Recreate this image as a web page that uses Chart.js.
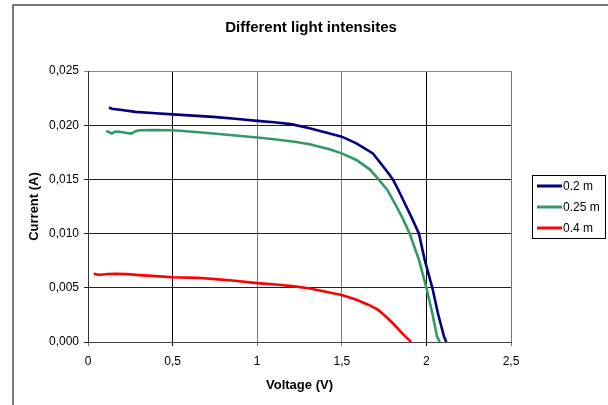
<!DOCTYPE html>
<html>
<head>
<meta charset="utf-8">
<script src="https://cdn.jsdelivr.net/npm/chart.js@4"></script>
<style>
	html, body { margin: 0; padding: 0; background: #fff; }
	#wrap { width: 608px; height: 405px; }
</style>
</head>
<body>
<div id="wrap"><canvas id="ivChart" width="608" height="405"></canvas></div>
<script>
const TITLE = "Different light intensites";
const X_LABEL = "Voltage (V)";
const Y_LABEL = "Current (A)";
const seriesNames = ["0.2 m", "0.25 m", "0.4 m"];
const seriesColors = ["#000080", "#339966", "#ff0000"];

// 0.2 m
const voltA = [0.124, 0.14, 0.165, 0.2, 0.28, 0.4, 0.5, 0.62, 0.74, 0.87, 1.0, 1.1, 1.2, 1.31, 1.4, 1.5, 1.586, 1.684, 1.754, 1.783, 1.805, 1.835, 1.872, 1.915, 1.956, 1.99, 2.035, 2.068, 2.104, 2.118];
const currA = [0.02163, 0.02152, 0.02147, 0.02140, 0.02123, 0.02110, 0.02100, 0.02088, 0.02077, 0.02060, 0.02040, 0.02027, 0.02010, 0.01972, 0.01935, 0.01894, 0.01833, 0.01740, 0.01600, 0.01540, 0.01490, 0.01400, 0.01280, 0.01140, 0.01000, 0.00757, 0.00500, 0.00265, 0.00050, 0.0];

// 0.25 m
const voltB = [0.108, 0.125, 0.142, 0.16, 0.188, 0.22, 0.257, 0.28, 0.303, 0.4, 0.5, 0.62, 0.74, 0.87, 1.0, 1.1, 1.22, 1.31, 1.427, 1.5, 1.586, 1.665, 1.718, 1.77, 1.813, 1.86, 1.901, 1.956, 2.0, 2.035, 2.063, 2.079];
const currB = [0.01948, 0.01935, 0.01923, 0.01942, 0.01939, 0.01930, 0.01923, 0.01945, 0.01954, 0.01955, 0.01954, 0.01940, 0.01923, 0.01905, 0.01887, 0.01870, 0.01847, 0.01825, 0.01779, 0.01740, 0.01679, 0.01593, 0.01500, 0.01400, 0.01280, 0.01140, 0.01000, 0.00757, 0.00500, 0.00265, 0.00050, 0.0];

// 0.4 m
const voltC = [0.034, 0.05, 0.073, 0.12, 0.165, 0.23, 0.303, 0.4, 0.5, 0.647, 0.75, 0.853, 1.0, 1.128, 1.22, 1.312, 1.427, 1.5, 1.587, 1.656, 1.713, 1.74, 1.77, 1.8, 1.828, 1.85, 1.874, 1.91];
const currC = [0.00629, 0.00624, 0.00620, 0.00627, 0.00629, 0.00626, 0.00617, 0.00608, 0.00598, 0.00592, 0.00580, 0.00567, 0.00543, 0.00528, 0.00513, 0.00494, 0.00457, 0.00433, 0.00390, 0.00344, 0.00298, 0.00262, 0.00221, 0.00175, 0.00129, 0.00092, 0.00052, 0.0];

const xTicks = [0, 0.5, 1, 1.5, 2, 2.5];
const yTicks = [0, 0.005, 0.01, 0.015, 0.02, 0.025];

function toPoints(xs, ys) {
	return xs.map((x, i) => ({ x: x, y: ys[i] }));
}

const seriesX = [voltA, voltB, voltC];
const seriesY = [currA, currB, currC];

const datasets = seriesNames.map((name, i) => ({
	label: name,
	data: toPoints(seriesX[i], seriesY[i]),
	borderColor: seriesColors[i],
	backgroundColor: seriesColors[i],
	borderWidth: 2.6,
	pointRadius: 0,
	tension: 0,
	fill: false,
}));

const FONT = "'Liberation Sans', Arial, sans-serif";

const frameAndTitle = {
	id: "frameAndTitle",
	beforeDraw(chart) {
		const { ctx } = chart;
		ctx.save();
		ctx.fillStyle = "#fff";
		ctx.fillRect(0, 0, chart.width, chart.height);
		ctx.strokeStyle = "#222";
		ctx.lineWidth = 1.2;
		ctx.strokeRect(13, 5, 700, 500);
		ctx.restore();
	},
	afterDraw(chart) {
		const { ctx } = chart;
		ctx.save();
		ctx.fillStyle = "#000";
		ctx.font = "bold 15px " + FONT;
		ctx.textAlign = "center";
		ctx.textBaseline = "middle";
		ctx.fillText(TITLE, 311, 28);

		// boxed legend on the right
		const box = { x: 532.5, y: 175.5, w: 73, h: 63 };
		ctx.strokeStyle = "#000";
		ctx.lineWidth = 1;
		ctx.fillStyle = "#fff";
		ctx.fillRect(box.x, box.y, box.w, box.h);
		ctx.strokeRect(box.x, box.y, box.w, box.h);
		ctx.font = "12px " + FONT;
		ctx.textAlign = "left";
		chart.data.datasets.forEach((ds, i) => {
			const y = 186 + i * 21;
			ctx.strokeStyle = ds.borderColor;
			ctx.lineWidth = 3;
			ctx.beginPath();
			ctx.moveTo(537, y);
			ctx.lineTo(562, y);
			ctx.stroke();
			ctx.fillStyle = "#000";
			ctx.fillText(ds.label, 563, y + 1);
		});
		ctx.restore();
	},
};

new Chart(document.getElementById("ivChart").getContext("2d"), {
	type: "line",
	data: { datasets: datasets },
	options: {
		responsive: false,
		animation: false,
		layout: { padding: { top: 71, right: 97, left: 0, bottom: 0 } },
		scales: {
			x: {
				type: "linear",
				min: 0,
				max: 2.5,
				afterBuildTicks(scale) {
					scale.ticks = xTicks.map((v) => ({ value: v }));
				},
				afterFit(scale) {
					scale.height = 63;
				},
				grid: {
					color: (c) => (c.tick && (c.tick.value === 0.5 || c.tick.value === 2) ? "#000" : "#777"),
					lineWidth: 1,
					tickLength: 4,
				},
				border: { display: true, color: "#444", width: 1 },
				ticks: {
					color: "#000",
					padding: 8,
					maxRotation: 0,
					font: { family: FONT, size: 12 },
					callback: (v) => String(v).replace(".", ","),
				},
				title: {
					display: true,
					text: X_LABEL,
					color: "#000",
					font: { family: FONT, size: 13, weight: "bold" },
					padding: { top: 0, bottom: 12 },
				},
			},
			y: {
				type: "linear",
				min: 0,
				max: 0.025,
				afterBuildTicks(scale) {
					scale.ticks = yTicks.map((v) => ({ value: v }));
				},
				afterFit(scale) {
					scale.width = 88;
				},
				grid: {
					color: (c) => (c.tick && c.tick.value === 0.025 ? "#888" : "#222"),
					lineWidth: 1,
					tickLength: 4,
				},
				border: { display: true, color: "#333", width: 1 },
				ticks: {
					color: "#000",
					padding: 5,
					font: { family: FONT, size: 12 },
					callback: (v) => v.toFixed(3).replace(".", ","),
				},
				title: {
					display: true,
					text: Y_LABEL,
					color: "#000",
					font: { family: FONT, size: 13, weight: "bold" },
					padding: { top: 27, bottom: 0 },
				},
			},
		},
		plugins: {
			legend: { display: false },
			title: { display: false },
			tooltip: { enabled: false },
		},
	},
	plugins: [frameAndTitle],
});
</script>
</body>
</html>
